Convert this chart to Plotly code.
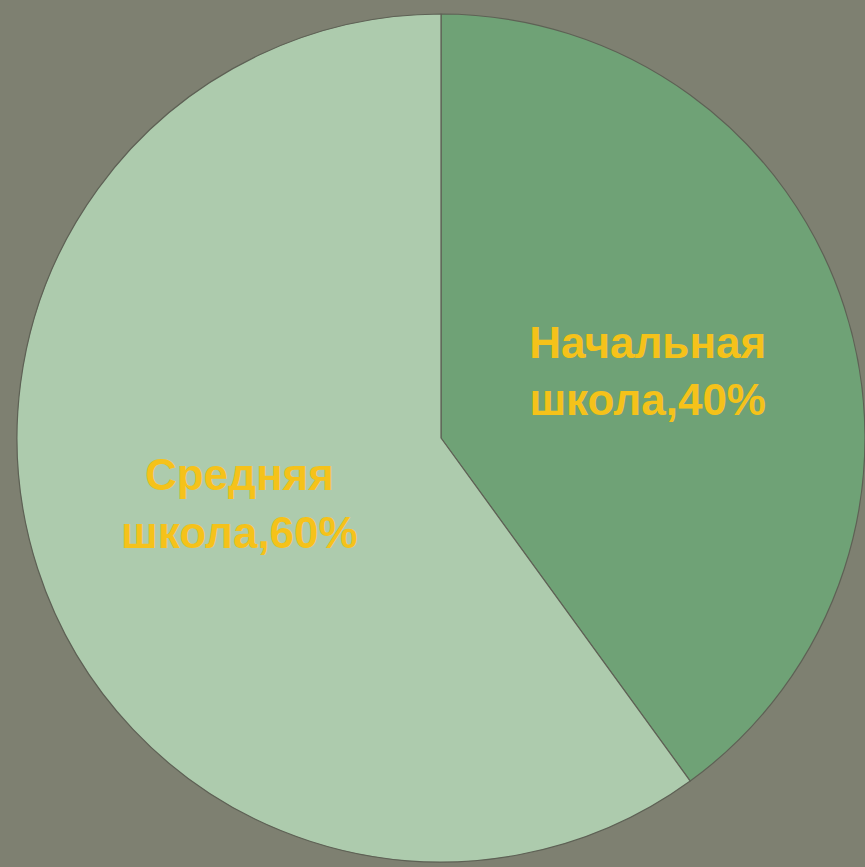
import plotly.graph_objects as go

labels = ["Начальная<br>школа", "Средняя<br>школа"]
values = [40, 60]
colors = ["#6fa276", "#adcbad"]

BG = "#7e8071"

fig = go.Figure(go.Pie(
    labels=labels, values=values, sort=False, direction="clockwise", rotation=0,
    marker=dict(colors=colors, line=dict(color="#5e6155", width=1.2)),
    texttemplate="%{label},%{percent:.0%}", textposition="inside",
    insidetextorientation="horizontal",
    textfont=dict(color="#f5c21a", size=44, family="Liberation Sans, Arial, sans-serif", weight="bold"),
    showlegend=False, hoverinfo="label+percent"))

fig.update_layout(width=865, height=867, paper_bgcolor=BG, plot_bgcolor=BG,
                  margin=dict(l=17, r=0, t=9, b=0))
# drop the page's default body margin so the figure sits at the window corner
fig.write_html("out.html", config={"displayModeBar": False},
               post_script="document.body.style.margin='0';document.body.style.background='%s';" % BG)
